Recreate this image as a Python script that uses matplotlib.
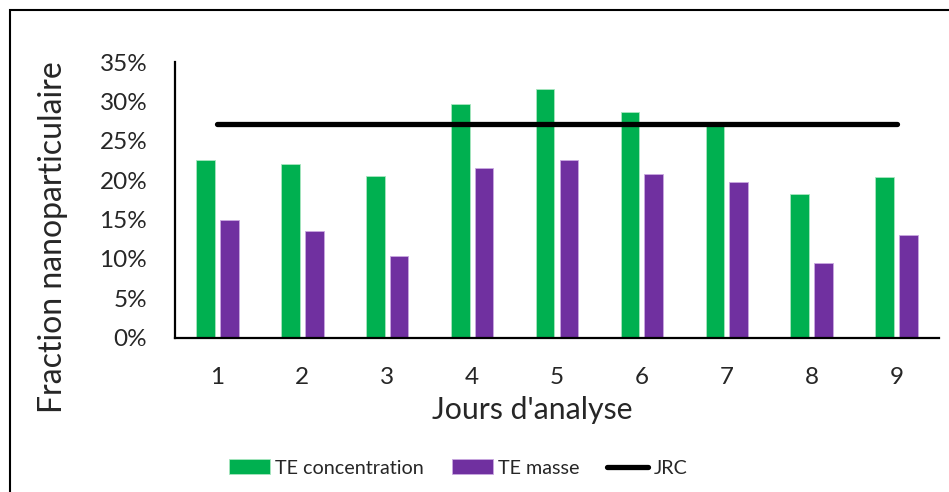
import matplotlib
matplotlib.use("Agg")
import matplotlib.pyplot as plt
from matplotlib.patches import Rectangle
import numpy as np

plt.rcParams['font.family'] = ['Lato', 'DejaVu Sans']

# data
jours = ["1", "2", "3", "4", "5", "6", "7", "8", "9"]
te_concentration = [22.6, 22.0, 20.5, 29.7, 31.6, 28.7, 27.0, 18.2, 20.4]
te_masse = [15.0, 13.5, 10.4, 21.6, 22.6, 20.8, 19.8, 9.5, 13.0]
jrc = [27.1] * 9

vert = "#00B050"
violet = "#7030A0"

W, H = 949, 492
fig = plt.figure(figsize=(W / 100, H / 100), dpi=100)

# axes placed in pixel coords of the reference
ax = fig.add_axes([175 / W, 1 - 337.7 / H, (939 - 175) / W, (337.7 - 62) / H])

x = np.arange(1, len(jours) + 1)
bw = 0.22
b1 = ax.bar(x - 0.14, te_concentration, width=bw, color=vert, edgecolor="#a8e6c0", linewidth=0.6, label="TE concentration", zorder=2)
b2 = ax.bar(x + 0.14, te_masse, width=bw, color=violet, edgecolor="#c9a8e0", linewidth=0.6, label="TE masse", zorder=2)
l1, = ax.plot(x, jrc, color="black", linewidth=3.8, solid_capstyle="round", label="JRC", zorder=3)

ax.set_xlim(0.5, 9.5)
ax.set_ylim(0, 35)
ax.set_yticks(np.arange(0, 36, 5))
ax.set_yticklabels([f"{v}%" for v in range(0, 36, 5)])
ax.set_xticks(x)
ax.set_xticklabels(jours)
ax.tick_params(axis="both", length=0, labelsize=17.5, colors="#262626")
ax.tick_params(axis="y", pad=20)
ax.tick_params(axis="x", pad=21)

for s in ["top", "right"]:
    ax.spines[s].set_visible(False)
for s in ["left", "bottom"]:
    ax.spines[s].set_linewidth(1.6)
    ax.spines[s].set_color("black")

fig.text(53 / W, 1 - 237 / H, "Fraction nanoparticulaire", rotation=90, ha="center", va="center", fontsize=23, color="#262626")
fig.text(532 / W, 1 - 410 / H, "Jours d'analyse", ha="center", va="center", fontsize=21.8, color="#262626")

leg = fig.legend([b1, b2, l1], ["TE concentration", "TE masse", "JRC"], loc="center",
                 bbox_to_anchor=(458 / W, 1 - 468 / H), ncol=3, frameon=False, fontsize=14.2,
                 handlelength=2.1, handleheight=0.75, columnspacing=1.4, handletextpad=0.25)
for t in leg.get_texts():
    t.set_color("#262626")

# outer chart frame (left and top visible)
fig.patches.append(Rectangle((10 / W, -0.1), 1.2, 1 - 10 / H + 0.1, transform=fig.transFigure,
                             fill=False, edgecolor="black", linewidth=1.5))

fig.savefig("out.png", dpi=100)
